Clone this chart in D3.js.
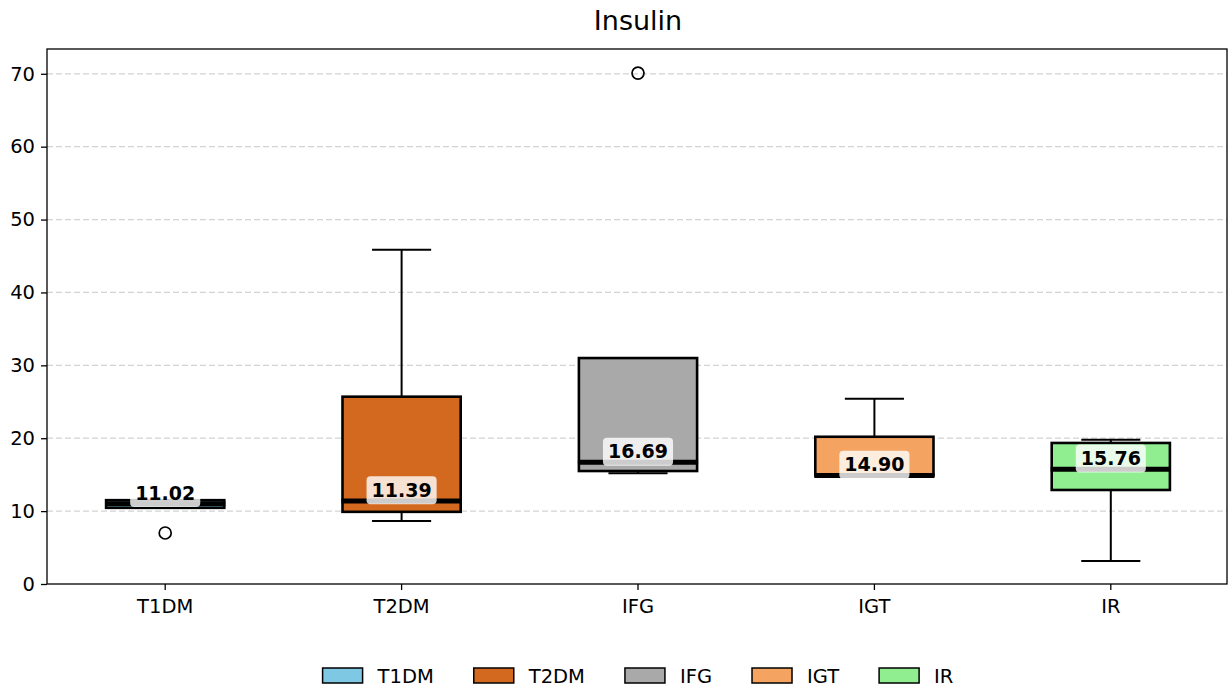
<!DOCTYPE html>
<html>
<head>
<meta charset="utf-8">
<script src="https://cdn.jsdelivr.net/npm/d3@7"></script>
<style>
  body { margin: 0; background: #fff; }
  text { font-family: "DejaVu Sans", sans-serif; }
</style>
</head>
<body>
<svg id="chart" width="1228" height="688"></svg>
<script>
// data
const groups = ['T1DM', 'T2DM', 'IFG', 'IGT', 'IR'];
const colors = ['#7ec8e3', '#d2691e', '#a9a9a9', '#f4a460', '#90ee90'];
const whiskerLow = [10.45, 8.65, 15.2, 14.9, 3.15];
const q1 = [10.45, 9.9, 15.5, 14.9, 12.9];
const medians = [11.02, 11.39, 16.69, 14.90, 15.76];
const q3 = [11.5, 25.7, 31.0, 20.2, 19.35];
const whiskerHigh = [11.5, 45.85, 31.0, 25.4, 19.8];
const outliers = [[7.0], [], [70.1], [], []];
const yTicks = [0, 10, 20, 30, 40, 50, 60, 70];

const width = 1228, height = 688;
const margin = { top: 49, right: 1, bottom: 104, left: 47 };

const svg = d3.select('#chart');

const x = d3.scaleBand()
  .domain(groups)
  .range([margin.left, width - margin.right + 2])
  .padding(0);
const y = d3.scaleLinear()
  .domain([0, 73.4])
  .range([height - margin.bottom, margin.top]);

const boxW = x.bandwidth() * 0.5;
const capW = boxW * 0.5;

/** grid */
svg.append('g')
  .selectAll('line')
  .data(yTicks.slice(1))
  .join('line')
  .attr('x1', margin.left)
  .attr('x2', width - margin.right)
  .attr('y1', d => y(d))
  .attr('y2', d => y(d))
  .attr('stroke', '#d3d3d3')
  .attr('stroke-width', 1.3)
  .attr('stroke-dasharray', '6,3');

/** boxes */
const g = svg.append('g')
  .selectAll('g')
  .data(groups)
  .join('g')
  .attr('transform', d => `translate(${x(d) + x.bandwidth() / 2},0)`);

// whiskers
g.append('line')
  .attr('y1', (d, i) => y(whiskerLow[i])).attr('y2', (d, i) => y(q1[i]))
  .attr('stroke', '#000').attr('stroke-width', 2);
g.append('line')
  .attr('y1', (d, i) => y(q3[i])).attr('y2', (d, i) => y(whiskerHigh[i]))
  .attr('stroke', '#000').attr('stroke-width', 2);
g.append('line')
  .attr('x1', -capW / 2).attr('x2', capW / 2)
  .attr('y1', (d, i) => y(whiskerLow[i])).attr('y2', (d, i) => y(whiskerLow[i]))
  .attr('stroke', '#000').attr('stroke-width', 2);
g.append('line')
  .attr('x1', -capW / 2).attr('x2', capW / 2)
  .attr('y1', (d, i) => y(whiskerHigh[i])).attr('y2', (d, i) => y(whiskerHigh[i]))
  .attr('stroke', '#000').attr('stroke-width', 2);

g.append('rect')
  .attr('x', -boxW / 2)
  .attr('width', boxW)
  .attr('y', (d, i) => y(q3[i]))
  .attr('height', (d, i) => y(q1[i]) - y(q3[i]))
  .attr('fill', (d, i) => colors[i])
  .attr('stroke', '#000')
  .attr('stroke-width', 2.6);

g.append('line')
  .attr('x1', -boxW / 2 - 1).attr('x2', boxW / 2 + 1)
  .attr('y1', (d, i) => y(medians[i])).attr('y2', (d, i) => y(medians[i]))
  .attr('stroke', '#000').attr('stroke-width', 5);

// outliers
g.selectAll('circle')
  .data((d, i) => outliers[i])
  .join('circle')
  .attr('cy', d => y(d))
  .attr('r', 6)
  .attr('fill', 'none')
  .attr('stroke', '#000')
  .attr('stroke-width', 1.7);

// median labels
const lab = g.append('g')
  .attr('transform', (d, i) => `translate(0,${y(medians[i]) - 11})`);
const labText = lab.append('text')
  .attr('text-anchor', 'middle')
  .attr('dy', '0.36em')
  .attr('font-size', 19)
  .attr('font-weight', 'bold')
  .text((d, i) => medians[i].toFixed(2));
labText.each(function () {
  const b = this.getBBox();
  d3.select(this.parentNode).insert('rect', 'text')
    .attr('x', b.x - 5).attr('y', b.y - 2.5)
    .attr('width', b.width + 10).attr('height', b.height + 6)
    .attr('rx', 4)
    .attr('fill', '#fff')
    .attr('fill-opacity', 0.8);
});

/** axes */
svg.append('g')
  .attr('transform', `translate(${margin.left},0)`)
  .call(d3.axisLeft(y).tickValues(yTicks).tickSize(6).tickPadding(6))
  .call(a => a.select('.domain').remove())
  .call(a => a.selectAll('line').attr('stroke-width', 1.3))
  .call(a => a.selectAll('text').attr('font-size', 19.5).attr('fill', '#000').attr('font-family', 'DejaVu Sans'));
svg.append('g')
  .attr('transform', `translate(0,${height - margin.bottom})`)
  .call(d3.axisBottom(x).tickSize(6).tickPadding(9))
  .call(a => a.select('.domain').remove())
  .call(a => a.selectAll('line').attr('stroke-width', 1.3))
  .call(a => a.selectAll('text').attr('font-size', 19.5).attr('fill', '#000').attr('font-family', 'DejaVu Sans'));

svg.append('rect')
  .attr('x', margin.left)
  .attr('y', margin.top)
  .attr('width', width - margin.right - margin.left)
  .attr('height', height - margin.bottom - margin.top)
  .attr('fill', 'none')
  .attr('stroke', '#000')
  .attr('stroke-width', 1.3);

/** title */
svg.append('text')
  .attr('x', 638)
  .attr('y', 30)
  .attr('text-anchor', 'middle')
  .attr('font-size', 27)
  .text('Insulin');

/** legend */
const leg = svg.append('g');
let lx = 0;
groups.forEach((d, i) => {
  const item = leg.append('g').attr('transform', `translate(${lx},0)`);
  item.append('rect')
    .attr('width', 40).attr('height', 15)
    .attr('fill', colors[i])
    .attr('stroke', '#000').attr('stroke-width', 1.5);
  const t = item.append('text')
    .attr('x', 55).attr('y', 7.5).attr('dy', '0.36em')
    .attr('font-size', 19.5)
    .text(d);
  lx += 55 + t.node().getComputedTextLength() + (i < groups.length - 1 ? 40 : 0);
});
leg.attr('transform', `translate(${638 - lx / 2},668)`);
</script>
</body>
</html>
